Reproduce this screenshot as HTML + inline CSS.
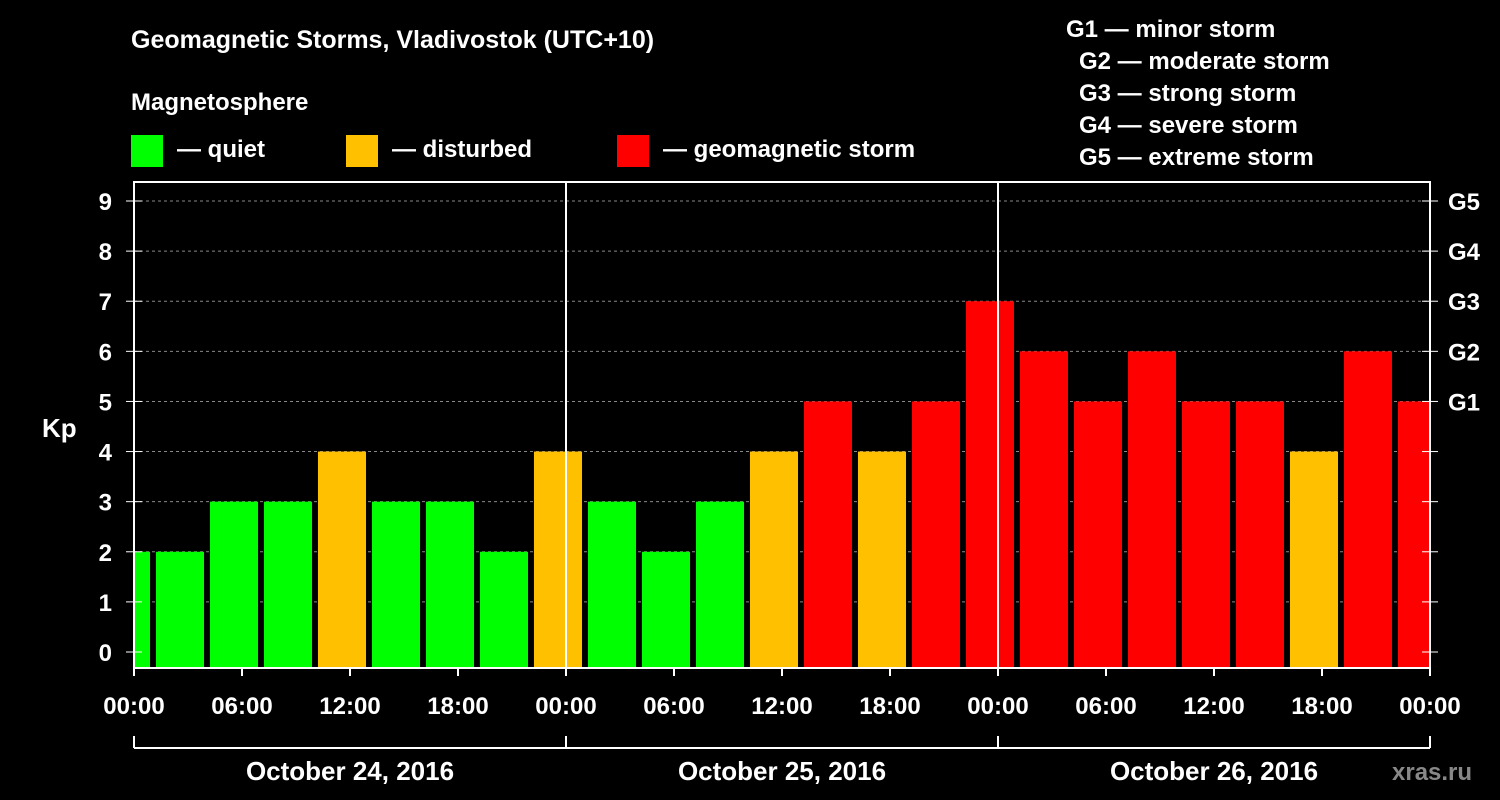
<!DOCTYPE html>
<html><head><meta charset="utf-8"><style>
html,body{margin:0;padding:0;background:#000;width:1500px;height:800px;overflow:hidden}
svg text{font-family:"Liberation Sans",Arial,sans-serif;font-weight:bold;fill:#fff}
</style></head><body>
<svg id="chart" width="1500" height="800" xmlns="http://www.w3.org/2000/svg">
<text x="131" y="48" font-size="25">Geomagnetic Storms, Vladivostok (UTC+10)</text>
<text x="131" y="110" font-size="24">Magnetosphere</text>
<g>
<rect x="131" y="135" width="32" height="32" fill="#00ff00"/>
<text x="177" y="157" font-size="24">— quiet</text>
<rect x="346" y="135" width="32" height="32" fill="#ffc000"/>
<text x="392" y="157" font-size="24">— disturbed</text>
<rect x="617" y="135" width="32" height="32" fill="#ff0000"/>
<text x="663" y="157" font-size="24">— geomagnetic storm</text>
</g>
<g font-size="24">
<text x="1066" y="37">G1 — minor storm</text>
<text x="1079" y="69">G2 — moderate storm</text>
<text x="1079" y="101">G3 — strong storm</text>
<text x="1079" y="133">G4 — severe storm</text>
<text x="1079" y="165">G5 — extreme storm</text>
</g>
<text x="42" y="437" font-size="26">Kp</text>
<text x="1392" y="780" font-size="24" fill="#888" style="fill:#888">xras.ru</text>
<g id="grid"></g><g id="bars"></g><g id="axes"></g>
</svg>
<script>
const kpValues=[2,2,3,3,4,3,3,2,4,3,2,3,4,5,4,5,7,6,5,6,5,5,4,6,5];
const barStartHours=[-1.78];
const yTicks=[0,1,2,3,4,5,6,7,8,9];
const gLabels=["","","","","","G1","G2","G3","G4","G5"];
const xTickLabels=["00:00","06:00","12:00","18:00","00:00","06:00","12:00","18:00","00:00","06:00","12:00","18:00","00:00"];
const dayLabels=["October 24, 2016","October 25, 2016","October 26, 2016"];
const NS="http://www.w3.org/2000/svg";
const X0=134,X1=1430,TOP=182,BOT=668;
const hours=72;
const x=h=>X0+(X1-X0)*h/hours;
const y=v=>652-(652-201)*v/9;
function mk(t,a,p){const e=document.createElementNS(NS,t);for(const k in a)e.setAttribute(k,a[k]);p.appendChild(e);return e;}
const grid=document.getElementById('grid'),bars=document.getElementById('bars'),axes=document.getElementById('axes');
yTicks.forEach((v,i)=>{
  if(v>0){const l=mk('line',{x1:X0,x2:X1,y1:y(v),y2:y(v),stroke:'#888','stroke-dasharray':'3,3','stroke-width':1},grid);
  
  }
  const t=mk('text',{x:112,y:y(v)+9,'font-size':24,'text-anchor':'end'},axes);t.textContent=v;
  
  
  mk('line',{x1:X0,x2:X0+8,y1:y(v),y2:y(v),stroke:'#fff'},axes);
  mk('line',{x1:X1-8,x2:X1,y1:y(v),y2:y(v),stroke:'#fff'},axes);
  mk('line',{x1:X0-8,x2:X0,y1:y(v),y2:y(v),stroke:'#fff'},axes);
  mk('line',{x1:X1,x2:X1+8,y1:y(v),y2:y(v),stroke:'#fff'},axes);
  if(gLabels[i]){const g=mk('text',{x:1448,y:y(v)+9,'font-size':24},axes);g.textContent=gLabels[i];
  
  }
});
const clip=mk('clipPath',{id:'pc'},document.getElementById('chart'));
mk('rect',{x:X0,y:TOP,width:X1-X0,height:BOT-TOP},clip);
bars.setAttribute('clip-path','url(#pc)');
kpValues.forEach((v,i)=>{
  const h0=barStartHours[0]+3*i;
  const c=v>=5?'#ff0000':(v>=4?'#ffc000':'#00ff00');
  const r=mk('rect',{x:x(h0),y:y(v),width:x(h0+2.67)-x(h0),height:BOT-y(v),fill:c},bars);
  
  
});
mk('rect',{x:X0,y:TOP,width:X1-X0,height:BOT-TOP,fill:'none',stroke:'#fff','stroke-width':2},axes);
[24,48].forEach(h=>mk('line',{x1:x(h),x2:x(h),y1:TOP,y2:BOT,stroke:'#fff','stroke-width':2},axes));
xTickLabels.forEach((s,i)=>{
  const h=i*6;
  mk('line',{x1:x(h),x2:x(h),y1:BOT,y2:BOT+8,stroke:'#fff','stroke-width':2},axes);
  const t=mk('text',{x:x(h),y:714,'font-size':24,'text-anchor':'middle'},axes);t.textContent=s;
  
  
});
mk('line',{x1:X0,x2:X1,y1:748,y2:748,stroke:'#fff','stroke-width':2},axes);
[0,24,48,72].forEach(h=>mk('line',{x1:x(h),x2:x(h),y1:736,y2:748,stroke:'#fff','stroke-width':2},axes));
dayLabels.forEach((s,i)=>{
  const t=mk('text',{x:x(i*24+12),y:780,'font-size':26,'text-anchor':'middle'},axes);t.textContent=s;
  
  
});
</script>
</body></html>
